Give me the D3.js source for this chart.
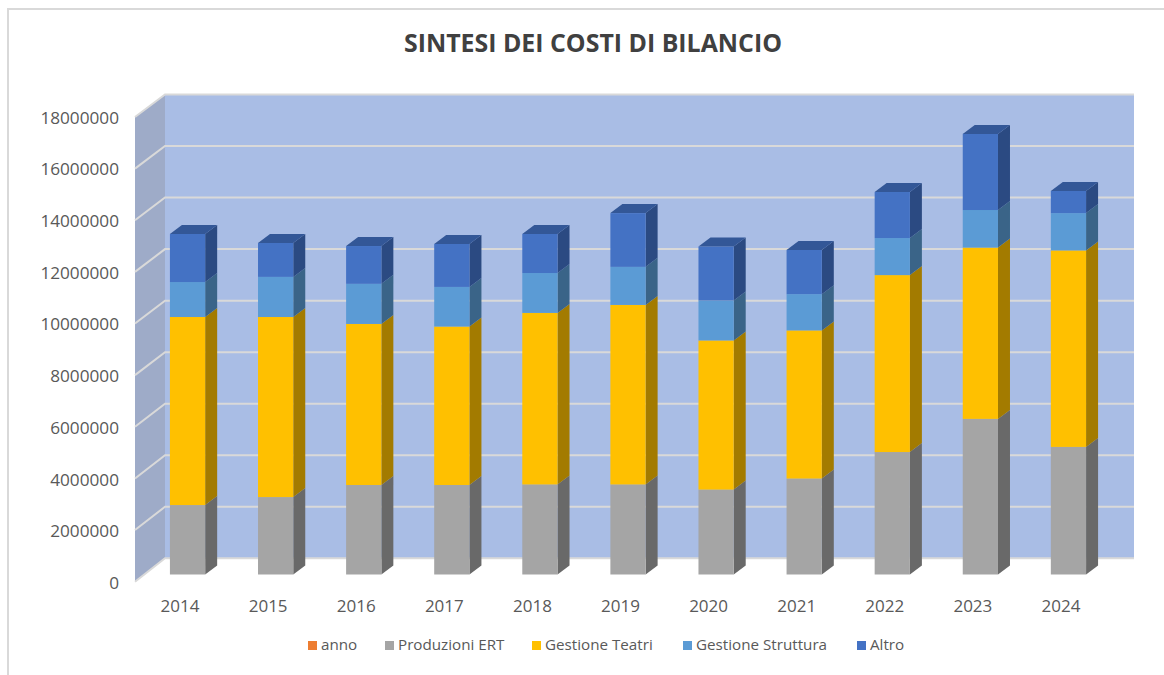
<!DOCTYPE html>
<html><head><meta charset="utf-8">
<script src="https://cdn.jsdelivr.net/npm/d3@7"></script>
<style>html,body{margin:0;padding:0;background:#fff}svg{display:block}text{font-family:"Open Sans",sans-serif}</style>
</head><body><div id="c"></div>
<script>
const years=[2014,2015,2016,2017,2018,2019,2020,2021,2022,2023,2024];
const produzioni=[2700000,3010000,3480000,3480000,3500000,3500000,3300000,3730000,4760000,6050000,4960000];
const teatri=[7310000,7000000,6260000,6160000,6670000,6980000,5800000,5760000,6880000,6660000,7640000];
const struttura=[1360000,1560000,1560000,1540000,1550000,1480000,1550000,1410000,1440000,1460000,1450000];
const altro=[1870000,1320000,1470000,1670000,1520000,2090000,2100000,1720000,1790000,2960000,860000];
const yTicks=[0,2000000,4000000,6000000,8000000,10000000,12000000,14000000,16000000,18000000];
const seriesNames=["anno","Produzioni ERT","Gestione Teatri","Gestione Struttura","Altro"];
const front=["#ED7D31","#A5A5A5","#FFC000","#5B9BD5","#4472C4"];
const side=["#A0541F","#696969","#A37B00","#3A6488","#2B4A82"];
const topc=["#C0652A","#7F7F7F","#C49400","#4A7BA8","#335797"];

const W=1164,H=675,barDX=12,barDY=9;
const svg=d3.select("#c").append("svg").attr("width",W).attr("height",H);
svg.append("path").attr("d",`M8,675V9H1164`).attr("stroke","#d9d9d9").attr("stroke-width",2).attr("fill","none");
svg.append("text").attr("x",593).attr("y",52).attr("text-anchor","middle").attr("font-size",24.9).attr("font-weight",700).attr("fill","#404040").text("SINTESI DEI COSTI DI BILANCIO");

const yBack=d3.scaleLinear().domain([0,18000000]).range([558.3,94.5]);
const yBar=d3.scaleLinear().domain([0,18000000]).range([574.5,111.5]);
const yFront=d3.scaleLinear().domain([0,18000000]).range([581.7,117]);
const yLabel=d3.scaleLinear().domain([0,18000000]).range([583,117.5]);
const x=d3.scaleBand().domain(years).range([143.5,1112.5]).paddingInner(0.6).paddingOuter(0.3);
const wallL=135,wallB=165,wallR=1134;
svg.append("path").attr("d",`M${wallB},${yBack(0)}H${wallR}V${yBack(18000000)}H${wallB}Z`).attr("fill","#A9BDE5");
svg.append("path").attr("d",`M${wallL},${yFront(0)}L${wallB},${yBack(0)}V${yBack(18000000)}L${wallL},${yFront(18000000)}Z`).attr("fill","#9EABC8");
const grid=svg.append("g").attr("fill","none").attr("stroke","#D9D9D9").attr("stroke-width",2);
yTicks.forEach(t=>{
  grid.append("path").attr("d",`M${wallL},${yFront(t)}L${wallB},${yBack(t)}H${wallR}`);
});
const axis=d3.axisLeft(yLabel).tickValues(yTicks).tickSize(0).tickPadding(16).tickFormat(d3.format("d"));
const ga=svg.append("g").attr("transform",`translate(135,0)`).call(axis);
ga.select(".domain").remove();
ga.selectAll("text").attr("font-size",17.2).attr("fill","#595959").style("font-family",'"Open Sans",sans-serif');
const xa=d3.axisBottom(x).tickSize(0).tickPadding(0);
const gx=svg.append("g").attr("transform","translate(-7.5,597)").call(xa);
gx.select(".domain").remove();
gx.selectAll("text").attr("font-size",17).attr("fill","#595959").attr("dy",0).attr("y",15).style("font-family",'"Open Sans",sans-serif');
const rows=years.map((y,i)=>({year:y,p:produzioni[i],t:teatri[i],s:struttura[i],a:altro[i]}));
const stack=d3.stack().keys(["p","t","s","a"])(rows);
stack.forEach((layer,k)=>{
  const c=k+1;
  const g=svg.append("g");
  layer.forEach(d=>{
    const x0=x(d.data.year),x1=x0+x.bandwidth(),yb=yBar(d[0]),yt=yBar(d[1]);
    g.append("path").attr("d",`M${x1},${yb}L${x1+barDX},${yb-barDY}V${yt-barDY}L${x1},${yt}Z`).attr("fill",side[c]);
    g.append("rect").attr("x",x0).attr("y",yt).attr("width",x.bandwidth()).attr("height",yb-yt).attr("fill",front[c]);
    if(k===3) g.append("path").attr("d",`M${x0},${yt}L${x0+barDX},${yt-barDY}H${x1+barDX}L${x1},${yt}Z`).attr("fill",topc[c]);
  });
});
const legX=[308,385,532,683,857];
const lg=svg.append("g");
seriesNames.forEach((n,i)=>{
  lg.append("rect").attr("x",legX[i]).attr("y",641).attr("width",9).attr("height",9).attr("fill",front[i]);
  lg.append("text").attr("x",legX[i]+13).attr("y",650).attr("font-size",15.2).attr("fill","#595959").text(n);
});
</script></body></html>
